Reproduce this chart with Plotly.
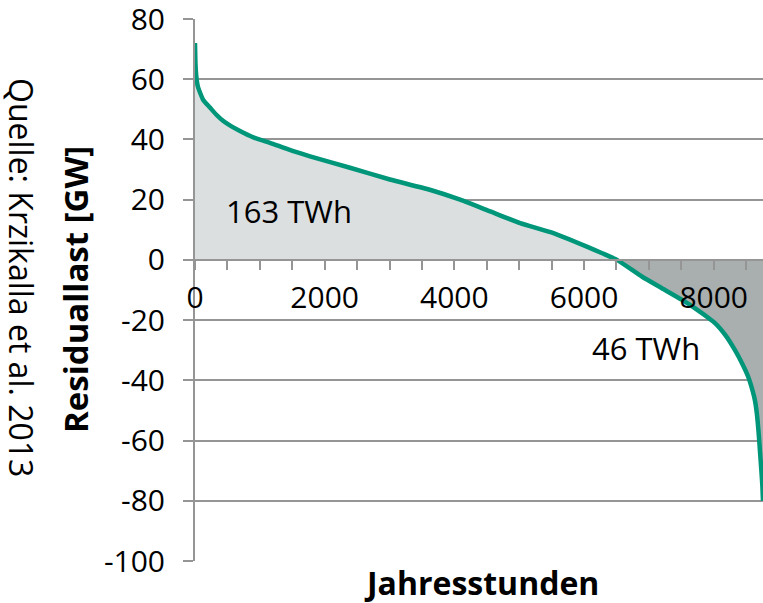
import plotly.graph_objects as go

# Jahresdauerlinie der Residuallast
hours = [0, 5, 12, 25, 45, 77, 130, 231, 330, 437, 550, 694, 900, 1157, 1450,
         1774, 2390, 3006, 3621, 4089, 4552, 5015, 5529, 6043, 6280, 6507,
         6897, 7200, 7513, 7713, 8020, 8180, 8328, 8440, 8533, 8600, 8636,
         8665, 8690, 8715, 8735, 8750, 8760]
residual_gw = [72, 67, 63, 60, 57.5, 55.6, 53, 50.6, 48.2, 46.1, 44.5, 42.8,
               40.7, 38.9, 36.6, 34.4, 30.6, 26.7, 23.3, 20.0, 16.1, 12.2, 8.9,
               4.4, 2.2, 0, -5.6, -9.4, -13.3, -16.1, -21, -25, -30, -34.5,
               -38.9, -43.5, -46.7, -51, -56.7, -64, -70, -75, -80]

x_ticks = [0, 2000, 4000, 6000, 8000]
y_ticks = [80, 60, 40, 20, 0, -20, -40, -60, -80, -100]

pos_part = [max(v, 0) for v in residual_gw]
neg_part = [min(v, 0) for v in residual_gw]

FONT = "Open Sans"
GRID = "#959595"

L, R, T, B, W, H = 195, 0, 19, 42, 763, 603
plot_w = W - L - R
plot_h = H - T - B


def px_to_paper(px, py):
    return (px - L) / plot_w, (H - B - py) / plot_h


fig = go.Figure()
fig.add_trace(go.Scatter(x=hours, y=pos_part, mode="lines", line=dict(width=0),
                         fill="tozeroy", fillcolor="#dcdfe0", hoverinfo="skip",
                         showlegend=False))
fig.add_trace(go.Scatter(x=hours, y=neg_part, mode="lines", line=dict(width=0),
                         fill="tozeroy", fillcolor="#a9aeae", hoverinfo="skip",
                         showlegend=False))
fig.add_trace(go.Scatter(x=hours, y=residual_gw, mode="lines",
                         line=dict(color="#00967a", width=4.5, shape="spline",
                                   smoothing=0.5),
                         showlegend=False))

jx, jy = px_to_paper(481, 583)
rx, ry = px_to_paper(75, 290)
qx, qy = px_to_paper(22, 277)

fig.update_layout(
    width=W, height=H,
    margin=dict(l=L, r=R, t=T, b=B, autoexpand=False),
    plot_bgcolor="white", paper_bgcolor="white",
    font=dict(family=FONT, size=30, color="black"),
    xaxis=dict(range=[0, 8760], anchor="free", position=100 / 180,
               tickvals=x_ticks, ticktext=[str(v) for v in x_ticks],
               showgrid=False, zeroline=False, automargin=False,
               showline=True, linecolor=GRID, linewidth=2,
               ticks="outside", ticklen=9, tickwidth=2, tickcolor=GRID,
               minor=dict(dtick=500, ticks="outside", ticklen=9, tickwidth=2,
                          tickcolor=GRID, showgrid=False),
               tickfont=dict(size=30), ticklabelstandoff=2,
               ticklabeloverflow="allow"),
    yaxis=dict(range=[-100, 80], tickvals=y_ticks,
               ticktext=[str(v) for v in y_ticks], automargin=False,
               showgrid=True, gridcolor=GRID, gridwidth=2,
               zeroline=False, showline=True, linecolor=GRID, linewidth=2,
               ticks="outside", ticklen=10, tickwidth=2, tickcolor=GRID,
               tickfont=dict(size=30), ticklabelstandoff=12,
               ticklabeloverflow="allow"),
    annotations=[
        dict(x=1450, y=16.3, xref="x", yref="y", text="163 TWh", showarrow=False,
             font=dict(size=31), xanchor="center", yanchor="middle"),
        dict(x=6960, y=-29.3, xref="x", yref="y", text="46 TWh", showarrow=False,
             font=dict(size=31), xanchor="center", yanchor="middle"),
        dict(x=jx, y=jy, xref="paper", yref="paper", text="<b>Jahresstunden</b>",
             showarrow=False, font=dict(size=32), xanchor="center",
             yanchor="middle"),
        dict(x=rx, y=ry, xref="paper", yref="paper",
             text="<b>Residuallast [GW]</b>", showarrow=False,
             font=dict(size=33), textangle=-90, xanchor="center",
             yanchor="middle"),
        dict(x=qx, y=qy, xref="paper", yref="paper",
             text="Quelle: Krzikalla et al. 2013", showarrow=False,
             font=dict(size=32), textangle=90, xanchor="center",
             yanchor="middle"),
    ],
)

fig.write_html("out.html")
